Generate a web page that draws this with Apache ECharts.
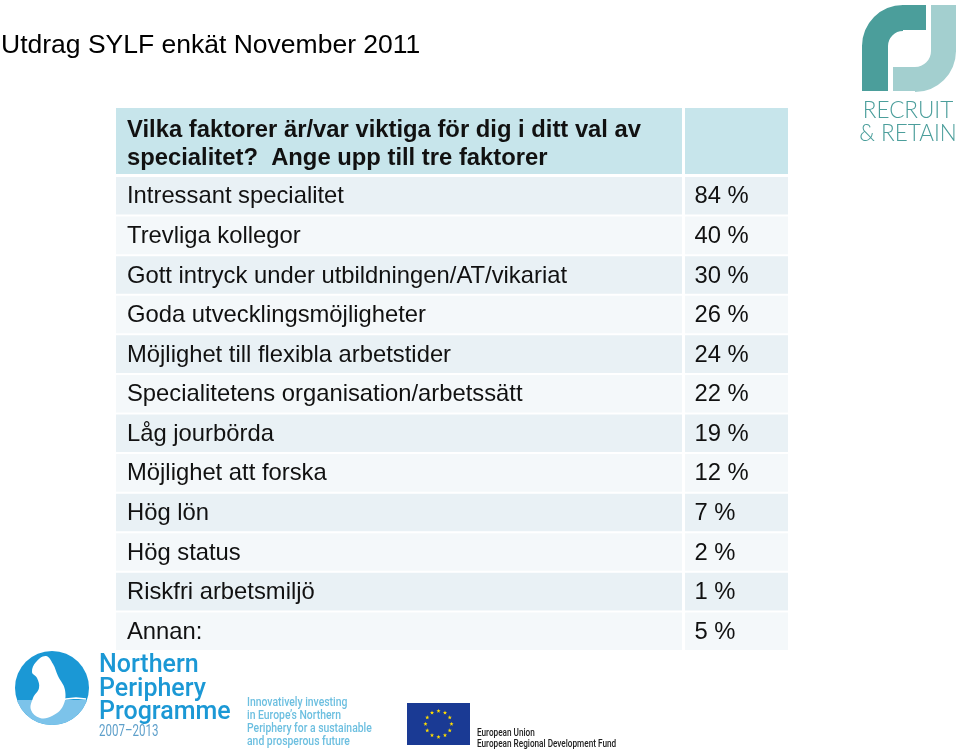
<!DOCTYPE html>
<html>
<head>
<meta charset="utf-8">
<script src="https://cdn.jsdelivr.net/npm/echarts@6/dist/echarts.min.js"></script>
<style>
html,body{margin:0;padding:0;background:#fff;}
#c{width:960px;height:752px;}
</style>
</head>
<body>
<div id="c"></div>
<script>
// ---- data ----
const pageTitle = 'Utdrag SYLF enkät November 2011';
const questionLines = ['Vilka faktorer är/var viktiga för dig i ditt val av', 'specialitet?  Ange upp till tre faktorer'];
const factors = [
  'Intressant specialitet',
  'Trevliga kollegor',
  'Gott intryck under utbildningen/AT/vikariat',
  'Goda utvecklingsmöjligheter',
  'Möjlighet till flexibla arbetstider',
  'Specialitetens organisation/arbetssätt',
  'Låg jourbörda',
  'Möjlighet att forska',
  'Hög lön',
  'Hög status',
  'Riskfri arbetsmiljö',
  'Annan:'
];
const percents = [84, 40, 30, 26, 24, 22, 19, 12, 7, 2, 1, 5];
const nppLines = ['Northern', 'Periphery', 'Programme'];
const nppYears = '2007–2013';
const nppSlogan = ['Innovatively investing', 'in Europe’s Northern', 'Periphery for a sustainable', 'and prosperous future'];
const euLines = ['European Union', 'European Regional Development Fund'];
const rrLines = ['RECRUIT', '& RETAIN'];

// ---- styles ----
const FONT = '"Liberation Sans", Arial, Helvetica, sans-serif';
const COL_SPLIT = 84.45; // axis units where value column begins
const rowOdd = '#e9f1f5';
const rowEven = '#f4f8fa';
const headFill = '#c7e5eb';

const chart = echarts.init(document.getElementById('c'), null, {renderer: 'canvas'});

function renderItem(params, api) {
  const idx = api.value(1);
  const c = api.coord([0, idx]);
  const bandH = api.size([0, 1])[1];
  const cs = params.coordSys;
  const top = c[1] - bandH / 2 + 1;
  const h = bandH - 2;
  const split = api.coord([COL_SPLIT, idx])[0];
  const fill = idx % 2 === 0 ? rowOdd : rowEven;
  return {
    type: 'group',
    children: [
      {type: 'rect', shape: {x: cs.x, y: top, width: split - cs.x - 1.5, height: h}, style: {fill: fill}},
      {type: 'rect', shape: {x: split + 1.5, y: top, width: cs.x + cs.width - split - 1.5, height: h}, style: {fill: fill}},
      {type: 'text', x: cs.x + 11, y: c[1] + 1,
        style: {text: factors[idx], fill: '#111', font: '23.8px ' + FONT, verticalAlign: 'middle', align: 'left'}},
      {type: 'text', x: split + 11, y: c[1] + 1,
        style: {text: api.value(0) + ' %', fill: '#111', font: '23.8px ' + FONT, verticalAlign: 'middle', align: 'left'}}
    ]
  };
}

// EU stars (decoration)
const stars = [];
for (let k = 0; k < 12; k++) {
  const a = k / 12 * Math.PI * 2;
  const cx = 438.5 + 13 * Math.cos(a), cy = 724 + 13 * Math.sin(a);
  const pts = [];
  for (let j = 0; j < 10; j++) {
    const r = j % 2 === 0 ? 2.2 : 0.9;
    const b = -Math.PI / 2 + j * Math.PI / 5;
    pts.push([cx + r * Math.cos(b), cy + r * Math.sin(b)]);
  }
  stars.push({type: 'polygon', shape: {points: pts}, style: {fill: '#ffdd00'}});
}
// lower segment of the round logo (decoration)
const segPts = [];
const a0 = Math.asin(12 / 37);
for (let k = 0; k <= 30; k++) {
  const a = a0 + (Math.PI - 2 * a0) * k / 30;
  segPts.push([52 + 37 * Math.cos(a), 688 + 37 * Math.sin(a)]);
}

const graphics = [
  // page title
  {type: 'text', x: 1, y: 46, style: {text: pageTitle, font: '26.5px ' + FONT, fill: '#000', verticalAlign: 'middle'}},
  // header cells
  {type: 'rect', shape: {x: 116, y: 108, width: 566, height: 66}, style: {fill: headFill}},
  {type: 'rect', shape: {x: 685, y: 108, width: 103, height: 66}, style: {fill: headFill}},
  {type: 'text', x: 127, y: 130, style: {text: questionLines[0], font: 'bold 23.8px ' + FONT, fill: '#111', verticalAlign: 'middle'}},
  {type: 'text', x: 127, y: 158, style: {text: questionLines[1], font: 'bold 23.8px ' + FONT, fill: '#111', verticalAlign: 'middle'}},
  // Recruit & Retain logo
  {type: 'rect', shape: {x: 862, y: 45, width: 26, height: 46}, style: {fill: '#4b9e9b'}},
  {type: 'rect', shape: {x: 902, y: 5, width: 24, height: 25}, style: {fill: '#4b9e9b'}},
  {type: 'sector', shape: {cx: 903, cy: 46, r0: 15, r: 41, startAngle: Math.PI, endAngle: Math.PI * 1.5, clockwise: true}, style: {fill: '#4b9e9b'}},
  {type: 'rect', shape: {x: 931, y: 5, width: 25, height: 47}, style: {fill: '#a3cfcf'}},
  {type: 'rect', shape: {x: 893, y: 67, width: 23, height: 24}, style: {fill: '#a3cfcf'}},
  {type: 'sector', shape: {cx: 915, cy: 51, r0: 16, r: 41, startAngle: 0, endAngle: Math.PI * 0.5, clockwise: true}, style: {fill: '#a3cfcf'}},
  {type: 'text', x: 908, y: 111, style: {text: rrLines[0], font: '300 22.5px Lato, "Open Sans", sans-serif', fill: '#4b9e9b', align: 'center', verticalAlign: 'middle'}},
  {type: 'text', x: 908, y: 134, style: {text: rrLines[1], font: '300 22.5px Lato, "Open Sans", sans-serif', fill: '#4b9e9b', align: 'center', verticalAlign: 'middle'}},
  // Northern Periphery logo
  {type: 'circle', shape: {cx: 52, cy: 688, r: 37}, style: {fill: '#1b98d5'}},
  {type: 'polygon', shape: {points: segPts}, style: {fill: '#7cc3ea'}},
  {type: 'polygon', shape: {smooth: 0.4, points: [[36, 662], [46, 656], [53, 664], [58, 676], [65, 690], [63, 706], [52, 716], [40, 718], [31, 710], [33, 698], [39, 688], [37, 678], [32, 672]]}, style: {fill: '#ffffff'}},
  {type: 'polyline', shape: {points: [[58, 701], [66, 699], [76, 698], [86, 699]]}, style: {stroke: '#ffffff', lineWidth: 1.5}},
  {type: 'text', x: 99, y: 666, style: {text: nppLines[0], font: '500 25px Roboto, sans-serif', fill: '#1b98d5', verticalAlign: 'middle'}},
  {type: 'text', x: 99, y: 690, style: {text: nppLines[1], font: '500 25px Roboto, sans-serif', fill: '#1b98d5', verticalAlign: 'middle'}},
  {type: 'text', x: 99, y: 713, style: {text: nppLines[2], font: '500 25px Roboto, sans-serif', fill: '#1b98d5', verticalAlign: 'middle'}},
  {type: 'text', x: 99, y: 732, scaleX: 0.72, style: {text: nppYears, font: '16px Roboto, sans-serif', fill: '#5d9fca', verticalAlign: 'middle'}},
  {type: 'text', x: 247, y: 703, scaleX: 0.8, style: {text: nppSlogan[0], font: '500 13px Roboto, sans-serif', fill: '#6cbfe0', verticalAlign: 'middle'}},
  {type: 'text', x: 247, y: 716, scaleX: 0.8, style: {text: nppSlogan[1], font: '500 13px Roboto, sans-serif', fill: '#6cbfe0', verticalAlign: 'middle'}},
  {type: 'text', x: 247, y: 729, scaleX: 0.8, style: {text: nppSlogan[2], font: '500 13px Roboto, sans-serif', fill: '#6cbfe0', verticalAlign: 'middle'}},
  {type: 'text', x: 247, y: 742, scaleX: 0.8, style: {text: nppSlogan[3], font: '500 13px Roboto, sans-serif', fill: '#6cbfe0', verticalAlign: 'middle'}},
  // EU flag
  {type: 'rect', shape: {x: 407, y: 703, width: 63, height: 42}, style: {fill: '#1a3a94'}},
  {type: 'group', children: stars},
  {type: 'text', x: 477, y: 733, scaleX: 0.82, style: {text: euLines[0], font: '500 10px Roboto, sans-serif', fill: '#222', verticalAlign: 'middle'}},
  {type: 'text', x: 477, y: 744, scaleX: 0.82, style: {text: euLines[1], font: '500 10px Roboto, sans-serif', fill: '#222', verticalAlign: 'middle'}}
];

chart.setOption({
  animation: false,
  backgroundColor: '#ffffff',
  grid: {left: 116, right: 172, top: 176, bottom: 101, containLabel: false},
  xAxis: {type: 'value', min: 0, max: 100, show: false},
  yAxis: {type: 'category', inverse: true, show: false, data: factors},
  series: [{
    type: 'custom',
    renderItem: renderItem,
    encode: {x: 0, y: 1},
    data: factors.map((f, i) => [percents[i], f]),
    silent: true
  }],
  graphic: graphics
});
</script>
</body>
</html>
